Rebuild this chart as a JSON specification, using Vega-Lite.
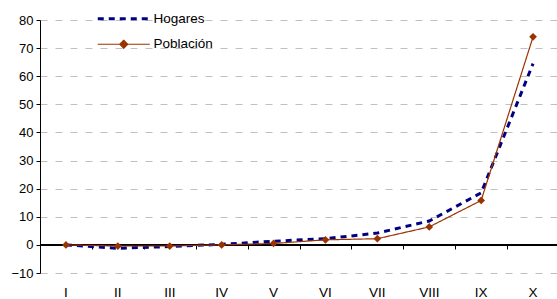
{
  "$schema": "https://vega.github.io/schema/vega-lite/v6.json",
  "width": 519,
  "height": 253,
  "autosize": {"type": "none"},
  "padding": {"left": 40, "top": 20, "right": 0, "bottom": 26},
  "config": {
    "view": {"stroke": null},
    "font": "Liberation Sans",
    "legend": {"padding": 0}
  },
  "data": {
    "values": [
      {"cat": "I", "series": "Hogares", "value": 0},
      {"cat": "II", "series": "Hogares", "value": -1.2},
      {"cat": "III", "series": "Hogares", "value": -0.6},
      {"cat": "IV", "series": "Hogares", "value": 0.2},
      {"cat": "V", "series": "Hogares", "value": 1.3},
      {"cat": "VI", "series": "Hogares", "value": 2.2},
      {"cat": "VII", "series": "Hogares", "value": 4.2},
      {"cat": "VIII", "series": "Hogares", "value": 8.5},
      {"cat": "IX", "series": "Hogares", "value": 18.5},
      {"cat": "X", "series": "Hogares", "value": 64.5},
      {"cat": "I", "series": "Población", "value": 0},
      {"cat": "II", "series": "Población", "value": -0.4},
      {"cat": "III", "series": "Población", "value": -0.4},
      {"cat": "IV", "series": "Población", "value": 0},
      {"cat": "V", "series": "Población", "value": 0.5},
      {"cat": "VI", "series": "Población", "value": 1.8},
      {"cat": "VII", "series": "Población", "value": 2.2},
      {"cat": "VIII", "series": "Población", "value": 6.4},
      {"cat": "IX", "series": "Población", "value": 15.8},
      {"cat": "X", "series": "Población", "value": 74}
    ]
  },
  "encoding": {
    "y": {
      "field": "value",
      "type": "quantitative",
      "scale": {"domain": [-10, 80], "nice": false, "zero": false},
      "axis": {
        "title": null,
        "values": [-10, 0, 10, 20, 30, 40, 50, 60, 70, 80],
        "grid": true,
        "gridColor": "#c0c0c0",
        "gridDash": [7, 8],
        "gridWidth": 1,
        "domainColor": "black",
        "tickColor": "black",
        "tickSize": 4,
        "labelPadding": 3,
        "labelFontSize": 13,
        "labelColor": "black"
      }
    }
  },
  "layer": [
    {
      "mark": {"type": "rule", "color": "black", "strokeWidth": 1},
      "encoding": {"y": {"datum": 0}}
    },
    {
      "mark": {"type": "line"},
      "encoding": {
        "x": {
          "field": "cat",
          "type": "ordinal",
          "sort": ["I", "II", "III", "IV", "V", "VI", "VII", "VIII", "IX", "X"],
          "scale": {"type": "band", "paddingInner": 0, "paddingOuter": 0},
          "axis": {
            "title": null,
            "domain": false,
            "ticks": false,
            "grid": false,
            "labelAngle": 0,
            "labelBaseline": "alphabetic",
            "labelPadding": 23.5,
            "labelFontSize": 13.5,
            "labelColor": "black"
          }
        },
        "color": {
          "field": "series",
          "type": "nominal",
          "scale": {"domain": ["Hogares", "Población"], "range": ["#000080", "#993300"]},
          "legend": {
            "title": null,
            "orient": "none",
            "legendX": 77,
            "legendY": -8,
            "symbolType": "stroke",
            "symbolSize": 100,
            "labelFontSize": 13.5,
            "labelColor": "black",
            "labelOffset": 23,
            "rowPadding": 10.5,
            "encode": {
              "symbols": {
                "update": {
                  "shape": {"signal": "datum.value === 'Población' ? 'M-5.2,0H5.2M-0.8,0L0,-0.8L0.8,0L0,0.8Z' : 'M-5.2,0H5.2'"},
                  "fill": {"signal": "datum.value === 'Población' ? '#993300' : 'transparent'"},
                  "strokeDash": {"signal": "datum.value === 'Hogares' ? [6, 4.5] : [1, 0]"},
                  "strokeWidth": {"signal": "datum.value === 'Hogares' ? 3 : 1.2"}
                }
              }
            }
          }
        },
        "strokeDash": {
          "field": "series",
          "type": "nominal",
          "scale": {"domain": ["Hogares", "Población"], "range": [[6, 5], [1, 0]]},
          "legend": null
        },
        "strokeWidth": {
          "field": "series",
          "type": "nominal",
          "scale": {"domain": ["Hogares", "Población"], "range": [3, 1.2]},
          "legend": null
        }
      }
    },
    {
      "transform": [{"filter": "datum.series === 'Población'"}],
      "mark": {"type": "point", "shape": "diamond", "filled": true, "color": "#993300", "size": 60, "opacity": 1},
      "encoding": {
        "x": {
          "field": "cat",
          "type": "ordinal",
          "sort": ["I", "II", "III", "IV", "V", "VI", "VII", "VIII", "IX", "X"],
          "axis": {
            "title": null,
            "orient": "bottom",
            "labels": false,
            "grid": false,
            "domain": true,
            "domainColor": "black",
            "ticks": true,
            "tickBand": "extent",
            "tickSize": 4,
            "tickColor": "black",
            "offset": -28
          }
        }
      }
    }
  ],
  "resolve": {"axis": {"x": "independent"}}
}
